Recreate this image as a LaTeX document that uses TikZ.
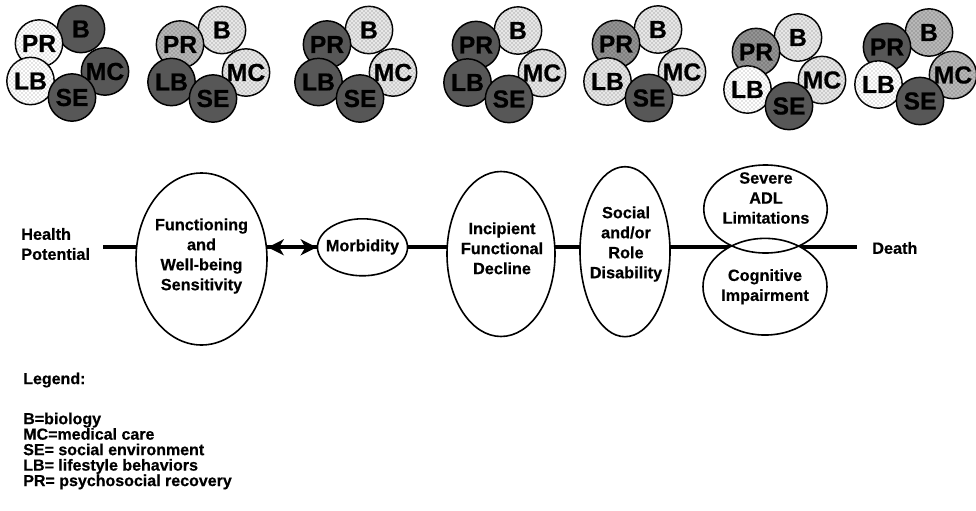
\documentclass[tikz,border=0pt]{standalone}
\usepackage{fontspec}
\setmainfont{Liberation Sans}[BoldFeatures={FakeBold=0.5}]
\usetikzlibrary{shapes.geometric,arrows.meta,patterns}

\tikzset{
  ring/.style={circle, draw=black, line width=1.1pt, minimum size=35.5pt, inner sep=0pt,
               font=\fontsize{18.5}{18.5}\selectfont\bfseries},
  dk/.style={fill=black!66},
  ww/.style={fill=white, postaction={pattern=crosshatch dots, pattern color=black!45}},
  lt/.style={fill=black!9, postaction={pattern=crosshatch dots, pattern color=black!55}},
  md/.style={fill=black!28, postaction={pattern=crosshatch dots, pattern color=black!65}},
  dd/.style={fill=black!42, postaction={pattern=crosshatch dots, pattern color=black!75}},
  stage/.style={ellipse, draw=black, fill=white, line width=1.2pt, inner sep=0pt},
  lbl/.style={font=\fontsize{12.2}{15}\selectfont\bfseries, align=center, inner sep=0pt},
  leg/.style={font=\fontsize{12}{11.6}\selectfont\bfseries, align=left, inner sep=0pt},
  axis/.style={line width=2.7pt},
  link/.style={line width=2.5pt, {Stealth[length=12pt,width=12pt,inset=3.5pt]}-{Stealth[length=12pt,width=12pt,inset=3.5pt]}}
}

% one group of five determinant circles; #1 name prefix, #2/#3 centre of SE,
% #4..#8 fills of PR, B, MC, SE, LB
\newcommand\detcluster[8]{%
  \begin{scope}[shift={(#2,#3)}]
    \node[ring,#5] (#1b)  at (9,-68.5)    {B};
    \node[ring,#4] (#1pr) at (-33,-54)    {PR};
    \node[ring,#6] (#1mc) at (33,-26)     {MC};
    \node[ring,#8] (#1lb) at (-41.5,-16.5) {LB};
    \node[ring,#7] (#1se) at (0,0)        {SE};
  \end{scope}}

\begin{document}
\begin{tikzpicture}[x=0.75pt,y=-0.75pt]
  \useasboundingbox (0,0) rectangle (976,511);

  % determinant clusters
  \detcluster{ca}{72}{97.5}{ww}{dk}{dk}{dk}{ww}
  \detcluster{cb}{213}{98.5}{md}{lt}{lt}{dk}{dk}
  \detcluster{cc}{360}{98.5}{dk}{lt}{lt}{dk}{dk}
  \detcluster{cd}{509}{99}{dk}{lt}{lt}{dk}{dk}
  \detcluster{ce}{649}{98}{dd}{lt}{lt}{dk}{lt}
  \detcluster{cf}{789}{106}{dd}{lt}{lt}{dk}{ww}
  \detcluster{cg}{920}{101}{dk}{md}{md}{dk}{ww}

  % timeline axis
  \coordinate (axisL) at (103,247);
  \coordinate (axisR) at (857,247);
  \draw[axis] (axisL) -- (axisR);

  \node[lbl, anchor=west, align=left] (hp) at (21,244) {Health\\Potential};
  \node[lbl, anchor=west] (death) at (872,248) {Death};

  % stages
  \node[stage, minimum width=98.25pt, minimum height=129pt] (func) at (201.5,259) {};
  \node[stage, minimum width=67.5pt, minimum height=42.75pt] (morb) at (362.5,247.3) {};
  \node[stage, minimum width=81pt, minimum height=123.75pt] (inc) at (501,254) {};
  \node[stage, minimum width=67.5pt, minimum height=127.5pt] (soc) at (625,251.7) {};
  \node[ellipse, fill=white, minimum width=92.6pt, minimum height=66pt] (sevf) at (765.5,209) {};
  \node[ellipse, fill=white, minimum width=93pt, minimum height=72.5pt] (cogf) at (765,286.7) {};
  \node[stage, fill=none, minimum width=92.6pt, minimum height=66pt] (sev) at (765.5,209) {};
  \node[stage, fill=none, minimum width=93pt, minimum height=72.5pt] (cog) at (765,286.7) {};

  \node[lbl] (funct) at (201.5,256) {Functioning\\and\\Well-being\\Sensitivity};
  \node[lbl] (morbt) at (362.5,247) {Morbidity};
  \node[lbl] (inct)  at (502,248.3) {Incipient\\Functional\\Decline};
  \node[lbl] (soct)  at (626,244) {Social\\and/or\\Role\\Disability};
  \node[lbl] (sevt)  at (766,198) {Severe\\ADL\\Limitations};
  \node[lbl] (cogt)  at (765,286.7) {Cognitive\\Impairment};

  \draw[link] (func.east |- morb.west) -- (morb.west);

  % legend
  \node[leg, anchor=west] (legend) at (23,380) {Legend:};
  \node[leg, anchor=west] (keys) at (23,451) {B=biology\\MC=medical care\\SE= social environment\\LB= lifestyle behaviors\\PR= psychosocial recovery};
\end{tikzpicture}
\end{document}
